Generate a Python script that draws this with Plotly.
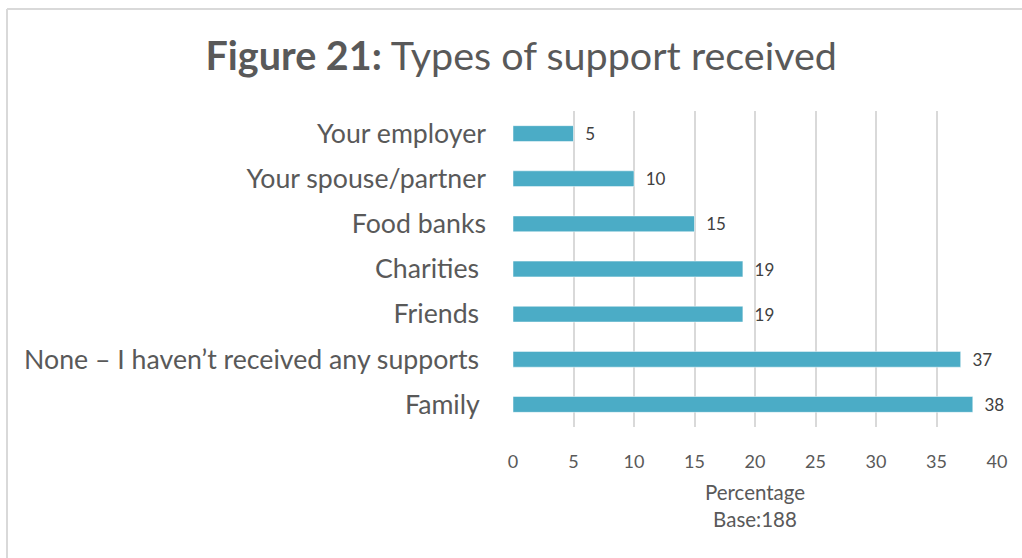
import plotly.graph_objects as go

categories = [
    "Your employer",
    "Your spouse/partner",
    "Food banks",
    "Charities\u00a0",
    "Friends\u00a0",
    "None – I haven’t received any supports\u00a0",
    "Family\u00a0",
]
values = [5, 10, 15, 19, 19, 37, 38]
x_ticks = [0, 5, 10, 15, 20, 25, 30, 35, 40]

W, H = 1022, 558
ML, MR, MT, MB = 513, 25, 111, 131
FONT = "Lato, Open Sans, sans-serif"

fig = go.Figure(
    go.Bar(
        x=values,
        y=categories,
        orientation="h",
        width=0.35,
        marker=dict(color="#4bacc6", line=dict(color="#ffffff", width=0.5)),
        text=[str(v) for v in values],
        texttemplate="\u00a0\u00a0%{text}",
        textposition="outside",
        constraintext="none",
        textfont=dict(family=FONT, size=17, color="#404040"),
        cliponaxis=False,
    )
)

pw = W - ML - MR
ph = H - MT - MB


def px_x(p):
    return (p - ML) / pw


def px_y(p):
    return 1 - (p - MT) / ph


# light frame around the chart (top and left edges)
fig.add_shape(type="line", xref="paper", yref="paper",
              x0=px_x(7), x1=px_x(1022), y0=px_y(9), y1=px_y(9),
              line=dict(color="#d9d9d9", width=2))
fig.add_shape(type="line", xref="paper", yref="paper",
              x0=px_x(7), x1=px_x(7), y0=px_y(9), y1=px_y(558),
              line=dict(color="#d9d9d9", width=2))

fig.update_layout(
    width=W,
    height=H,
    margin=dict(l=ML, r=MR, t=MT, b=MB, pad=0),
    paper_bgcolor="#ffffff",
    plot_bgcolor="#ffffff",
    showlegend=False,
    title=dict(
        text="<b>Figure 21:</b> Types of support received",
        x=0.51,
        xanchor="center",
        y=1 - 56 / H,
        yanchor="middle",
        font=dict(family=FONT, size=39.5, color="#595959"),
    ),
    xaxis=dict(
        range=[0, 40],
        tickvals=x_ticks,
        showgrid=True,
        gridcolor="#d9d9d9",
        gridwidth=2,
        zeroline=False,
        showline=False,
        ticks="",
        tickfont=dict(family=FONT, size=18, color="#595959"),
        ticklabelstandoff=22,
        title=dict(
            text="Percentage<br>Base:188",
            font=dict(family=FONT, size=20.5, color="#595959"),
            standoff=14,
        ),
    ),
    yaxis=dict(
        autorange="reversed",
        showgrid=False,
        zeroline=False,
        showline=False,
        ticks="",
        tickfont=dict(family=FONT, size=26.7, color="#595959"),
        ticklabelstandoff=26,
    ),
    bargap=0.65,
)

fig.write_html("out.html")
